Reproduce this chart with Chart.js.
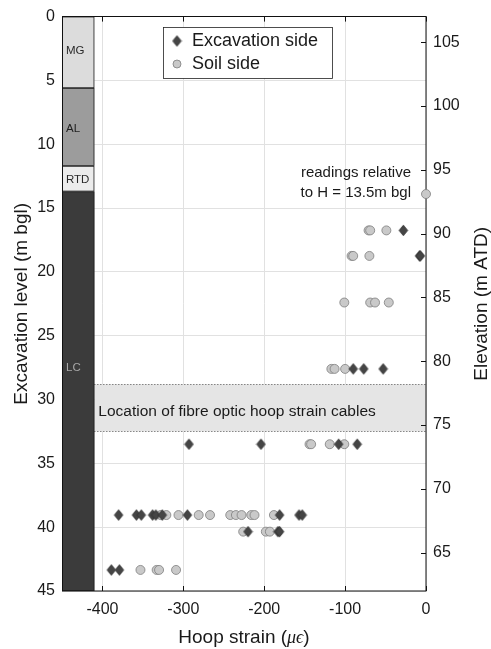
<!DOCTYPE html>
<html>
<head>
<meta charset="utf-8">
<script src="https://cdn.jsdelivr.net/npm/chart.js@4.4.1/dist/chart.umd.min.js"></script>
<style>
  html, body { margin: 0; padding: 0; background: #fff; }
  #wrap { width: 491px; height: 649px; position: relative; }
</style>
</head>
<body>
<div id="wrap"><canvas id="chart"></canvas></div>
<script>
// Hoop strain readings (microstrain) against depth (m below ground level)
const excavationStrain = [-28, -8, -7, -90, -77, -53, -293, -204, -108, -85,
  -380, -358, -352, -338, -334, -326, -295, -181, -157, -153,
  -220, -183, -181, -389, -379];
const excavationDepth = [16.75, 18.75, 18.75, 27.6, 27.6, 27.6, 33.5, 33.5, 33.5, 33.5,
  39.05, 39.05, 39.05, 39.05, 39.05, 39.05, 39.05, 39.05, 39.05, 39.05,
  40.35, 40.35, 40.35, 43.35, 43.35];

const soilStrain = [0, -71, -69, -49, -92, -90, -70, -101, -69, -63, -46,
  -117, -113, -100, -144, -142, -119, -101,
  -328, -321, -306, -281, -267, -242, -235, -228, -216, -212, -188,
  -226, -198, -193, -353, -333, -330, -309];
const soilDepth = [13.9, 16.75, 16.75, 16.75, 18.75, 18.75, 18.75, 22.4, 22.4, 22.4, 22.4,
  27.6, 27.6, 27.6, 33.5, 33.5, 33.5, 33.5,
  39.05, 39.05, 39.05, 39.05, 39.05, 39.05, 39.05, 39.05, 39.05, 39.05, 39.05,
  40.35, 40.35, 40.35, 43.35, 43.35, 43.35, 43.35];

// Ground profile column
const strataNames = ['MG', 'AL', 'RTD', 'LC'];
const strataTop = [0, 5.6, 11.7, 13.7];
const strataBottom = [5.6, 11.7, 13.7, 45];
const strataLabelDepth = [2.7, 8.8, 12.8, 27.5];

// Depth range of the fibre optic hoop strain cables
const cableBand = [28.8, 32.5];

// Axis ticks
const depthTicks = [0, 5, 10, 15, 20, 25, 30, 35, 40, 45];
const elevationTicks = [65, 70, 75, 80, 85, 90, 95, 100, 105];
const strainTicks = [-400, -300, -200, -100, 0];

const groundElevation = 107;   // m ATD at 0 m bgl
const maxDepth = 45;
const strainMin = -450;
const strataEdge = -410;       // right edge of the ground profile column

const FONT = '"Liberation Sans", Arial, Helvetica, sans-serif';
const INK = '#1a1a1a';

function makeDiamond(hw, hh, fill, stroke) {
  const c = document.createElement('canvas');
  c.width = Math.ceil(hw * 2 + 2);
  c.height = Math.ceil(hh * 2 + 2);
  const g = c.getContext('2d');
  const cx = c.width / 2, cy = c.height / 2;
  g.beginPath();
  g.moveTo(cx, cy - hh);
  g.lineTo(cx + hw, cy);
  g.lineTo(cx, cy + hh);
  g.lineTo(cx - hw, cy);
  g.closePath();
  g.fillStyle = fill;
  g.fill();
  g.lineWidth = 0.8;
  g.strokeStyle = stroke;
  g.stroke();
  return c;
}
const diamond = makeDiamond(4.3, 5.3, '#454545', '#2e2e2e');
const SOIL_FILL = '#c9c9c9', SOIL_EDGE = '#7d7d7d';

const strataFill = ['#dcdcdc', '#9c9c9c', '#ececec', '#3b3b3b'];
const strataText = ['#2a2a2a', '#1e1e1e', '#2a2a2a', '#a8a8a8'];

const decorations = {
  id: 'decorations',
  beforeDatasetsDraw(chart) {
    const { ctx, chartArea: a, scales: { x, y, y2 } } = chart;
    ctx.save();
    // cable band
    const bx0 = x.getPixelForValue(strataEdge), bx1 = x.getPixelForValue(0);
    const by0 = y.getPixelForValue(cableBand[0]), by1 = y.getPixelForValue(cableBand[1]);
    ctx.fillStyle = '#e5e5e5';
    ctx.fillRect(bx0, by0, bx1 - bx0, by1 - by0);
    ctx.setLineDash([1, 2]);
    ctx.strokeStyle = '#505050';
    ctx.lineWidth = 1;
    ctx.beginPath();
    ctx.moveTo(bx0, Math.round(by0) + 0.5); ctx.lineTo(bx1, Math.round(by0) + 0.5);
    ctx.moveTo(bx0, Math.round(by1) + 0.5); ctx.lineTo(bx1, Math.round(by1) + 0.5);
    ctx.stroke();
    ctx.setLineDash([]);
    ctx.fillStyle = INK;
    ctx.font = '15.5px ' + FONT;
    ctx.textAlign = 'left';
    ctx.textBaseline = 'alphabetic';
    ctx.fillText('Location of fibre optic hoop strain cables', bx0 + 4, (by0 + by1) / 2 + 8);

    // ground profile column
    const sx0 = x.getPixelForValue(strainMin), sx1 = x.getPixelForValue(strataEdge);
    strataNames.forEach((name, i) => {
      const t = y.getPixelForValue(strataTop[i]), b = y.getPixelForValue(strataBottom[i]);
      ctx.fillStyle = strataFill[i];
      ctx.fillRect(sx0, t, sx1 - sx0, b - t);
      ctx.strokeStyle = '#222';
      ctx.lineWidth = 0.8;
      ctx.strokeRect(sx0 + 0.4, t + 0.4, sx1 - sx0 - 0.8, b - t - 0.8);
      ctx.fillStyle = strataText[i];
      ctx.font = '11.5px ' + FONT;
      ctx.textBaseline = 'middle';
      ctx.fillText(name, sx0 + 4, y.getPixelForValue(strataLabelDepth[i]));
    });

    // axes box
    ctx.strokeStyle = '#111';
    ctx.lineWidth = 1;
    ctx.strokeRect(Math.round(a.left) + 0.5, Math.round(a.top) - 0.5,
      Math.round(a.right - a.left) - 0.5, Math.round(a.bottom - a.top) + 0.5);
    // inward tick marks
    ctx.beginPath();
    strainTicks.forEach(v => {
      const px = Math.round(x.getPixelForValue(v)) + 0.5;
      ctx.moveTo(px, a.top); ctx.lineTo(px, a.top + 5);
      ctx.moveTo(px, a.bottom); ctx.lineTo(px, a.bottom - 5);
    });
    elevationTicks.forEach(v => {
      const py = Math.round(y2.getPixelForValue(v)) + 0.5;
      ctx.moveTo(a.right, py); ctx.lineTo(a.right - 5, py);
    });
    ctx.stroke();
    ctx.restore();
  },
  afterDatasetsDraw(chart) {
    const { ctx, chartArea: a, scales: { x, y } } = chart;
    ctx.save();
    // note next to the reference reading
    const rx = x.getPixelForValue(soilStrain[0]) - 15;
    const ry = y.getPixelForValue(soilDepth[0]);
    ctx.fillStyle = INK;
    ctx.font = '15px ' + FONT;
    ctx.textAlign = 'right';
    ctx.textBaseline = 'middle';
    ctx.fillText('readings relative', rx, ry - 21);
    ctx.fillText('to H = 13.5m bgl', rx, ry - 1);

    // legend
    const lx = 163, ly = 27, lw = 169, lh = 51;
    ctx.fillStyle = '#fff';
    ctx.fillRect(lx, ly, lw, lh);
    ctx.strokeStyle = '#222';
    ctx.lineWidth = 0.8;
    ctx.strokeRect(lx + 0.5, ly + 0.5, lw, lh);
    ctx.drawImage(diamond, lx + 14 - diamond.width / 2, ly + 14 - diamond.height / 2);
    ctx.beginPath();
    ctx.arc(lx + 14, ly + 37, 4, 0, Math.PI * 2);
    ctx.fillStyle = SOIL_FILL; ctx.fill();
    ctx.strokeStyle = SOIL_EDGE; ctx.lineWidth = 0.8; ctx.stroke();
    ctx.fillStyle = INK;
    ctx.font = '18px ' + FONT;
    ctx.textAlign = 'left';
    ctx.fillText('Excavation side', lx + 29, ly + 14);
    ctx.fillText('Soil side', lx + 29, ly + 37);

    // right axis title
    ctx.save();
    ctx.translate(482, (a.top + a.bottom) / 2);
    ctx.rotate(-Math.PI / 2);
    ctx.font = '19px ' + FONT;
    ctx.textAlign = 'center';
    ctx.fillText('Elevation (m ATD)', 0, 0);
    ctx.restore();

    // bottom axis title with italic micro-strain symbol
    const parts = [['Hoop strain (', '19px ' + FONT], ['\u03BC\u03F5', 'italic 18px "Liberation Serif", "DejaVu Serif", serif'], [')', '19px ' + FONT]];
    let total = 0;
    parts.forEach(p => { ctx.font = p[1]; total += ctx.measureText(p[0]).width; });
    let cx = (a.left + a.right) / 2 - total / 2;
    ctx.textAlign = 'left';
    ctx.textBaseline = 'alphabetic';
    parts.forEach(p => { ctx.font = p[1]; ctx.fillText(p[0], cx, 643); cx += ctx.measureText(p[0]).width; });
    ctx.restore();
  }
};

Chart.defaults.font.family = FONT;
Chart.defaults.color = INK;

new Chart(document.getElementById('chart'), {
  type: 'scatter',
  data: {
    datasets: [
      {
        label: 'Excavation side',
        data: excavationStrain.map((v, i) => ({ x: v, y: excavationDepth[i] })),
        pointStyle: diamond,
        pointRadius: 5,
        clip: false,
        yAxisID: 'y'
      },
      {
        label: 'Soil side',
        data: soilStrain.map((v, i) => ({ x: v, y: soilDepth[i] })),
        pointStyle: 'circle',
        pointRadius: 4.5,
        backgroundColor: SOIL_FILL,
        borderColor: SOIL_EDGE,
        borderWidth: 0.8,
        clip: false,
        yAxisID: 'y'
      }
    ]
  },
  options: {
    responsive: true,
    maintainAspectRatio: false,
    animation: false,
    layout: { padding: { top: 16, left: 0, right: 0, bottom: 0 } },
    plugins: { legend: { display: false }, tooltip: { enabled: false } },
    scales: {
      x: {
        type: 'linear', position: 'bottom', min: strainMin, max: 0,
        afterBuildTicks: s => { s.ticks = strainTicks.map(v => ({ value: v })); },
        afterFit: s => { s.height = 58; },
        grid: { color: '#e1e1e1', lineWidth: 1, drawTicks: false },
        border: { display: false },
        ticks: { font: { size: 16 }, color: INK, padding: 9, maxRotation: 0, autoSkip: false }
      },
      y: {
        type: 'linear', position: 'left', reverse: true, min: 0, max: maxDepth,
        afterBuildTicks: s => { s.ticks = depthTicks.map(v => ({ value: v })); },
        afterFit: s => { s.width = 62; },
        grid: { color: '#e1e1e1', lineWidth: 1, drawTicks: false },
        border: { display: false },
        ticks: { font: { size: 16 }, color: INK, padding: 7, autoSkip: false },
        title: { display: true, text: 'Excavation level (m bgl)', font: { size: 19 }, color: INK, padding: { top: 10, bottom: 0 } }
      },
      y2: {
        type: 'linear', position: 'right', min: groundElevation - maxDepth, max: groundElevation,
        afterBuildTicks: s => { s.ticks = elevationTicks.map(v => ({ value: v })); },
        afterFit: s => { s.width = 65; },
        grid: { drawOnChartArea: false, drawTicks: false },
        border: { display: false },
        ticks: { font: { size: 16 }, color: INK, padding: 7, autoSkip: false }
      }
    }
  },
  plugins: [decorations]
});
</script>
</body>
</html>
